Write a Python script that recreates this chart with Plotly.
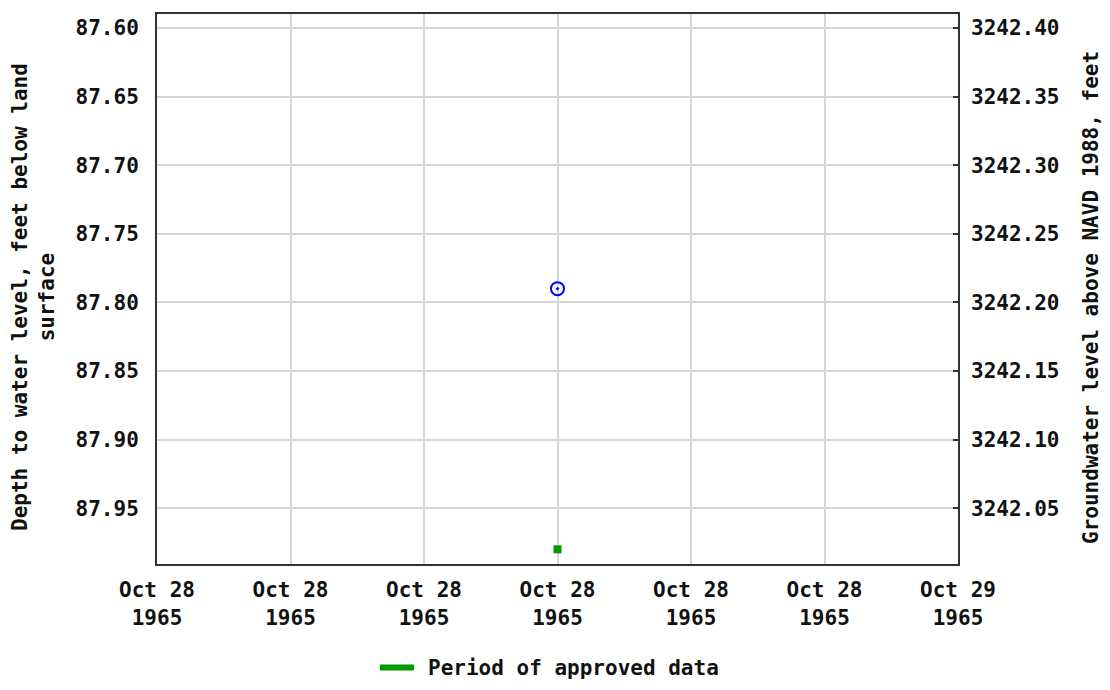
import plotly.graph_objects as go

# Data
obs_times = ["1965-10-28 12:00"]
obs_depth = [87.79]
approved_times = ["1965-10-28 12:00"]
approved_depth = [87.98]
land_surface = 3330.00  # depth 87.60 <-> elevation 3242.40

x_tickvals = ["1965-10-28 00:00", "1965-10-28 04:00", "1965-10-28 08:00", "1965-10-28 12:00",
              "1965-10-28 16:00", "1965-10-28 20:00", "1965-10-29 00:00"]
x_ticktext = ["Oct 28<br>1965"] * 6 + ["Oct 29<br>1965"]
y_left_ticks = [87.60, 87.65, 87.70, 87.75, 87.80, 87.85, 87.90, 87.95]
y_range = [87.9907, 87.5898]
legend_label = "Period of approved data"
approved_color = "#009900"

FONT = "DejaVu Sans Mono"
FS = 21
L, T, PW, PH = 149, 4, 801, 552
W, H = 1095, 674
B = H - T - PH


def px(fx):
    return (fx - L) / PW


def py(fy):
    return 1 - (fy - T) / PH


fig = go.Figure()
fig.add_trace(go.Scatter(
    x=obs_times, y=obs_depth, mode="markers",
    marker=dict(symbol="circle-open-dot", size=13, color="#0000ff", line=dict(width=2, color="#0000ff")),
    showlegend=False, hoverinfo="x+y"))
fig.add_trace(go.Scatter(
    x=approved_times, y=approved_depth, mode="markers",
    marker=dict(symbol="square", size=8, color=approved_color),
    name=legend_label, showlegend=False))
fig.add_trace(go.Scatter(
    x=obs_times, y=[land_surface - v for v in obs_depth], yaxis="y2", mode="markers",
    marker=dict(opacity=0), showlegend=False, hoverinfo="skip"))

axis_common = dict(showline=True, linecolor="#333333", linewidth=2, mirror=True,
                   gridcolor="#d6d6d6", gridwidth=2, zeroline=False,
                   tickfont=dict(family=FONT, size=FS, color="#111111"))

leg_y = py(660)

fig.update_layout(
    width=W, height=H,
    margin=dict(l=L, r=W - L - PW, t=T, b=B),
    plot_bgcolor="white", paper_bgcolor="white",
    font=dict(family=FONT, size=FS, color="#111111"),
    showlegend=False,
    xaxis=dict(type="date", range=[x_tickvals[0], x_tickvals[-1]],
               tickmode="array", tickvals=x_tickvals, ticktext=["<b>%s</b>" % t for t in x_ticktext],
               ticks="", ticklabelstandoff=6, **axis_common),
    yaxis=dict(range=y_range, tickmode="array", tickvals=y_left_ticks,
               ticktext=["<b>%.2f</b>" % v for v in y_left_ticks], ticks="",
               ticklabelstandoff=12, **axis_common),
    yaxis2=dict(overlaying="y", side="right",
                range=[land_surface - y_range[0], land_surface - y_range[1]],
                tickmode="array", tickvals=[land_surface - v for v in y_left_ticks],
                ticktext=["<b>%.2f</b>" % (land_surface - v) for v in y_left_ticks],
                ticks="inside", ticklen=5, tickwidth=2, tickcolor="#333333",
                showgrid=False, zeroline=False, ticklabelstandoff=12,
                tickfont=dict(family=FONT, size=FS, color="#111111")),
    shapes=[dict(type="line", xref="paper", yref="paper",
                 x0=px(372), x1=px(406), y0=leg_y, y1=leg_y,
                 line=dict(color=approved_color, width=6))],
    annotations=[
        dict(text="<b>Depth to water level, feet below land<br>surface</b>",
             xref="paper", yref="paper", x=px(26), y=py(288),
             xanchor="center", yanchor="middle", textangle=-90, showarrow=False,
             font=dict(family=FONT, size=FS, color="#111111")),
        dict(text="<b>Groundwater level above NAVD 1988, feet</b>",
             xref="paper", yref="paper", x=px(1083), y=py(289),
             xanchor="center", yanchor="middle", textangle=-90, showarrow=False,
             font=dict(family=FONT, size=FS, color="#111111")),
        dict(text="<b>%s</b>" % legend_label,
             xref="paper", yref="paper", x=px(418), y=leg_y,
             xanchor="left", yanchor="middle", showarrow=False,
             font=dict(family=FONT, size=FS, color="#111111")),
    ],
)

fig.write_html("out.html")
